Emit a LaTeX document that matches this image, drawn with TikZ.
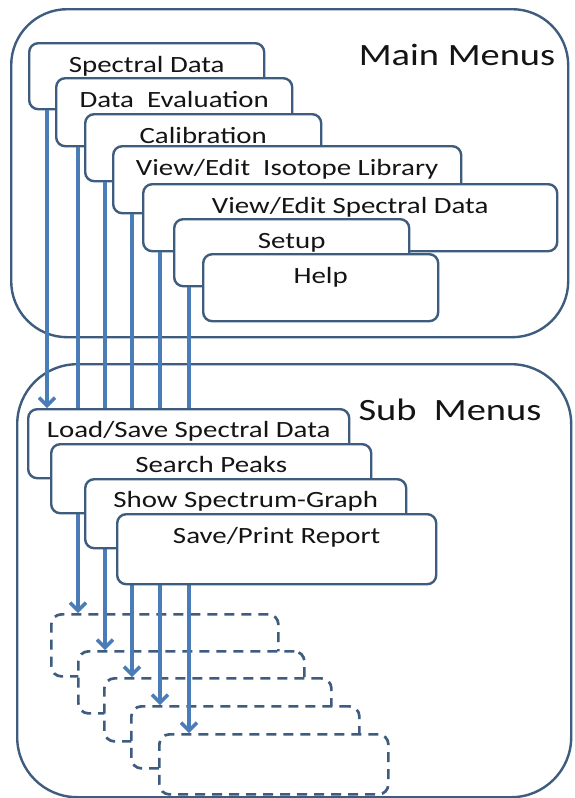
\documentclass[tikz,border=0pt]{standalone}
\usepackage{fontspec}
\setmainfont[FakeStretch=1.24]{Carlito}
\usetikzlibrary{arrows.meta}
\definecolor{bord}{HTML}{3E5C7E}
\definecolor{arrc}{HTML}{4A7DB8}
\definecolor{txt}{HTML}{141414}
\begin{document}
\begin{tikzpicture}[x=1pt,y=-1pt,
  cont/.style={draw=bord, line width=2.4pt, rounded corners=56pt, rectangle, anchor=north west, inner sep=0pt},
  mbox/.style={draw=bord, fill=white, line width=2.4pt, rounded corners=9pt, rectangle, anchor=north west, inner sep=0pt},
  dbox/.style={draw=bord, fill=white, line width=2.7pt, rounded corners=10pt, rectangle, anchor=north west, inner sep=0pt, dash pattern=on 10pt off 7pt},
  lbl/.style={anchor=base, text=txt, font=\fontsize{23.3}{27}\selectfont, inner sep=0pt},
  head/.style={anchor=base, text=txt, font=\fontsize{31}{36}\selectfont, inner sep=0pt},
  arr/.style={draw=arrc, line width=3.6pt, -{Straight Barb[length=8pt,width=16pt,line width=3.4pt]}}
]
\useasboundingbox[fill=white] (0,0) rectangle (574,798);

% containers
\node[cont, minimum width=557pt, minimum height=328pt] (mainc) at (10,8) {};
\node[cont, minimum width=554pt, minimum height=433pt, rounded corners=60pt] (subc) at (16,363) {};
\node[head] (mainh) at (457,65) {Main Menus};
\node[head] (subh) at (450,420) {Sub\ \ Menus};

% dashed placeholder boxes
\node[dbox, minimum width=227pt, minimum height=62pt] (d1) at (50,613) {};
\node[dbox, minimum width=226pt, minimum height=62pt] (d2) at (77,650) {};
\node[dbox, minimum width=227pt, minimum height=63pt] (d3) at (103,677) {};
\node[dbox, minimum width=228pt, minimum height=62pt] (d4) at (130,705) {};
\node[dbox, minimum width=229pt, minimum height=60pt] (d5) at (158,733) {};

% main menu boxes
\node[mbox, minimum width=235pt, minimum height=66pt] (m1) at (28,42) {};
\node[lbl] (t1) at ([yshift=-30pt]m1.north) {Spectral Data};
\node[mbox, minimum width=236pt, minimum height=68pt] (m2) at (55,77) {};
\node[lbl] (t2) at ([yshift=-30pt]m2.north) {Data\ \ Evaluation};
\node[mbox, minimum width=236pt, minimum height=67pt] (m3) at (84,113) {};
\node[lbl] (t3) at ([yshift=-30pt]m3.north) {Calibration};
\node[mbox, minimum width=348pt, minimum height=67pt] (m4) at (112,145) {};
\node[lbl] (t4) at ([yshift=-30pt]m4.north) {View/Edit\ \ Isotope Library};
\node[mbox, minimum width=414pt, minimum height=67pt] (m5) at (142,183) {};
\node[lbl] (t5) at ([yshift=-30pt]m5.north) {View/Edit Spectral Data};
\node[mbox, minimum width=235pt, minimum height=67pt] (m6) at (173,218) {};
\node[lbl] (t6) at ([yshift=-30pt]m6.north) {Setup};
\node[mbox, minimum width=235pt, minimum height=67pt] (m7) at (202,253) {};
\node[lbl] (t7) at ([yshift=-30pt]m7.north) {Help};

% arrow columns
\path (47,0) coordinate (x1) (78,0) coordinate (x2) (105,0) coordinate (x3)
      (132,0) coordinate (x4) (160,0) coordinate (x5) (189,0) coordinate (x6);
\coordinate (s1top) at (27,408);

% arrows
\draw[arr] (m1.south -| x1) -- (s1top -| x1);
\draw[arr] (m2.south -| x2) -- (d1.north -| x2);
\draw[arr] (m3.south -| x3) -- (d2.north -| x3);
\draw[arr] (m4.south -| x4) -- (d3.north -| x4);
\draw[arr] (m5.south -| x5) -- (d4.north -| x5);
\draw[arr] (m6.south -| x6) -- (d5.north -| x6);

% sub menu boxes
\node[mbox, minimum width=321pt, minimum height=69pt] (s1) at (s1top) {};
\node[lbl] (u1) at ([yshift=-29pt]s1.north) {Load/Save Spectral Data};
\node[mbox, minimum width=320pt, minimum height=69pt] (s2) at (50,443) {};
\node[lbl] (u2) at ([yshift=-29pt]s2.north) {Search Peaks};
\node[mbox, minimum width=321pt, minimum height=69pt] (s3) at (84,478) {};
\node[lbl] (u3) at ([yshift=-29pt]s3.north) {Show Spectrum-Graph};
\node[mbox, minimum width=319pt, minimum height=70pt] (s4) at (116,513) {};
\node[lbl] (u4) at ([yshift=-30pt]s4.north) {Save/Print Report};
\end{tikzpicture}
\end{document}
